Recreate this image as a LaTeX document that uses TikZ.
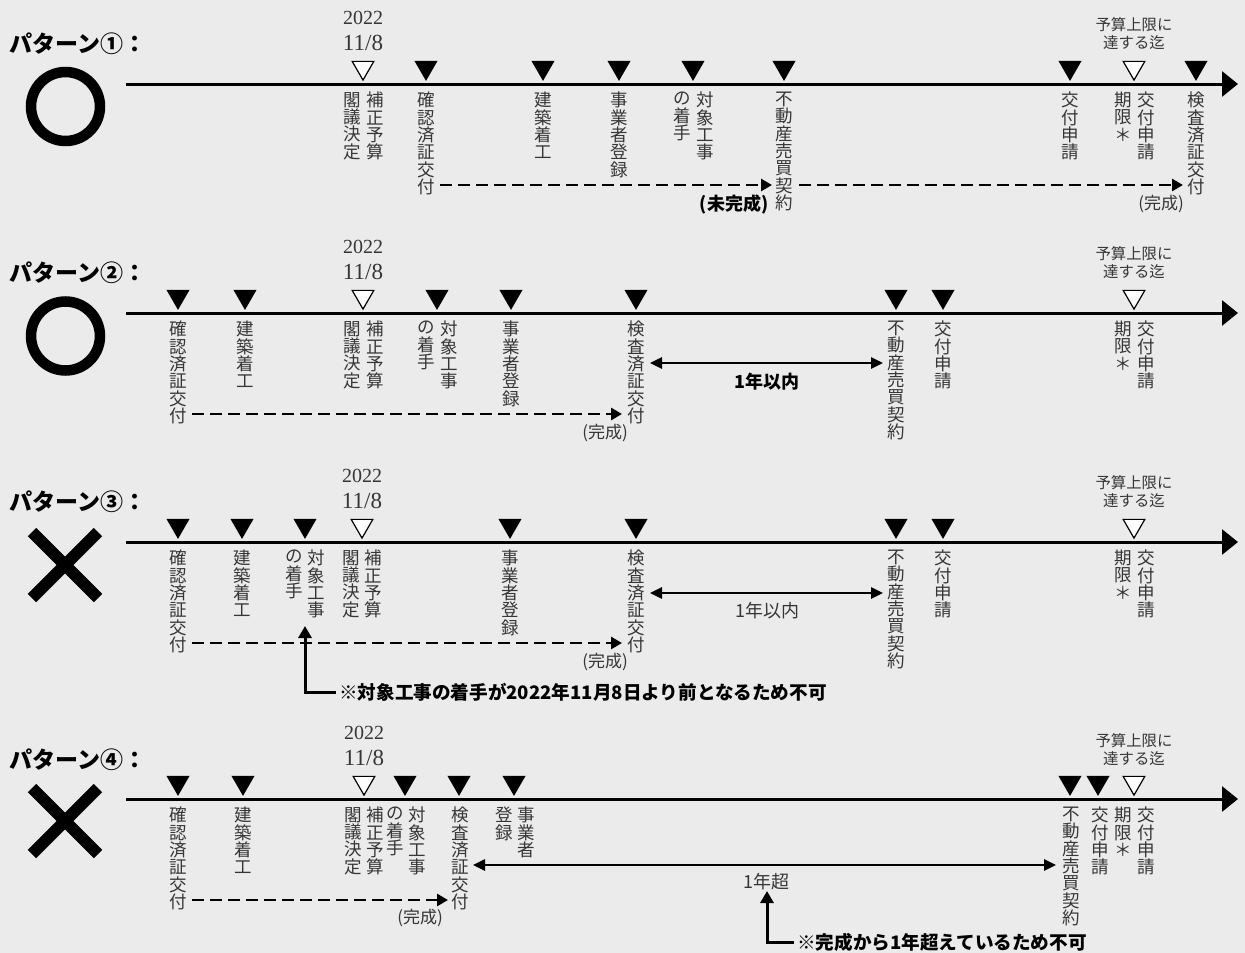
\documentclass[tikz,border=0pt]{standalone}
\usepackage{fontspec}
\setmainfont{Noto Sans CJK JP}
\newfontfamily\tms{Liberation Serif}
\usetikzlibrary{shapes.geometric,arrows.meta}
\definecolor{bg}{HTML}{EBEBEB}
\definecolor{lab}{HTML}{363636}
\tikzset{
 mk/.style={regular polygon, regular polygon sides=3, shape border rotate=180, minimum size=26.6pt, inner sep=0pt, outer sep=0pt},
 fmk/.style={mk, fill=black},
 omk/.style={mk, fill=white, draw=black, line width=1.2pt, minimum size=25pt},
 vlab/.style={anchor=north, align=center, inner sep=0pt, text=lab, font=\fontsize{17.5}{17.3}\selectfont},
 hlab/.style={inner sep=0pt, text=lab, font=\fontsize{15.4}{17}\selectfont},
 plab/.style={inner sep=0pt, text=lab, font=\fontsize{17}{19}\selectfont},
 blab/.style={inner sep=0pt, text=black, font=\fontsize{18}{20}\selectfont\bfseries},
 nlab/.style={inner sep=0pt, text=lab, font=\fontsize{18}{20}\selectfont},
 ttl/.style={anchor=west, inner sep=0pt, font=\fontsize{23}{25}\selectfont\bfseries},
 yr/.style={inner sep=0pt, text=lab, font=\tms\fontsize{20}{22}\selectfont},
 dt/.style={inner sep=0pt, text=lab, font=\tms\fontsize{23}{25}\selectfont},
 tline/.style={line width=3pt, -{Triangle[length=16pt,width=25pt]}},
 dline/.style={line width=2.8pt, dash pattern=on 12pt off 6pt, -{Triangle[length=11pt,width=12pt]}},
 darr/.style={line width=2.6pt, {Triangle[length=12pt,width=11pt]}-{Triangle[length=12pt,width=11pt]}},
 uarr/.style={line width=3pt, -{Triangle[length=12pt,width=13pt]}},
 note/.style={anchor=west, inner sep=0pt, text=black, font=\fontsize{18.6}{20}\selectfont\bfseries},
 okmark/.style={circle, draw=black, line width=10.5pt, minimum size=69pt, inner sep=0pt},
 ngline/.style={line width=12pt},
}
\begin{document}
\begin{tikzpicture}[x=1pt,y=-1pt]
\fill[bg] (0,0) rectangle (1245,953);
\useasboundingbox (0,0) rectangle (1245,953);

% ---------------- Pattern 1 ----------------
\begin{scope}[shift={(0,84)}]
\node[ttl] (t1) at (9,-40) {パターン①：};
\node[okmark] (s1) at (65.5,22.5) {};
\coordinate (l1s) at (126,0); \coordinate (l1e) at (1238,0);
\draw[tline] (l1s) -- (l1e);
\node[omk] (m1a) at (363,-16.4) {};
\node[fmk] (m1b) at (426,-16.4) {};
\node[fmk] (m1c) at (543,-16.4) {};
\node[fmk] (m1d) at (619,-16.4) {};
\node[fmk] (m1e) at (693,-16.4) {};
\node[fmk] (m1f) at (784,-16.4) {};
\node[fmk] (m1g) at (1070,-16.4) {};
\node[omk] (m1h) at (1134,-16.4) {};
\node[fmk] (m1i) at (1196,-16.4) {};
\node[yr] (y1) at (363,-66) {2022};
\node[dt] (d1) at (363,-41) {11/8};
\node[hlab] (b1a) at (1134,-59) {予算上限に};
\node[hlab] (b1b) at (1134,-41) {達する迄};
\node[vlab] (v1a) at (375,8) {補\\正\\予\\算};
\node[vlab] (v1a2) at (352,8) {閣\\議\\決\\定};
\node[vlab] (v1b) at (426,8) {確\\認\\済\\証\\交\\付};
\node[vlab] (v1c) at (543,8) {建\\築\\着\\工};
\node[vlab] (v1d) at (619,8) {事\\業\\者\\登\\録};
\node[vlab] (v1e) at (705,8) {対\\象\\工\\事};
\node[vlab] (v1e2) at (682,8) {の\\着\\手};
\node[vlab] (v1f) at (784,8) {不\\動\\産\\売\\買\\契\\約};
\node[vlab] (v1g) at (1070,8) {交\\付\\申\\請};
\node[vlab] (v1h) at (1146,8) {交\\付\\申\\請};
\node[vlab] (v1h2) at (1123,8) {期\\限\\＊};
\node[vlab] (v1i) at (1196,8) {検\\査\\済\\証\\交\\付};
\coordinate (c1a) at (440,101); \coordinate (c1b) at (772,101);
\coordinate (c1c) at (799,101); \coordinate (c1d) at (1183,101);
\draw[dline] (c1a) -- (c1b);
\draw[dline] (c1c) -- (c1d);
\node[blab] (w1a) at (734,120) {(未完成)};
\node[plab] (w1b) at (1161,120) {(完成)};
\end{scope}

% ---------------- Pattern 2 ----------------
\begin{scope}[shift={(0,313)}]
\node[ttl] (t2) at (9,-40) {パターン②：};
\node[okmark] (s2) at (65.5,23) {};
\coordinate (l2s) at (126,0); \coordinate (l2e) at (1238,0);
\draw[tline] (l2s) -- (l2e);
\node[fmk] (m2a) at (178,-16.4) {};
\node[fmk] (m2b) at (245,-16.4) {};
\node[omk] (m2c) at (363,-16.4) {};
\node[fmk] (m2d) at (437,-16.4) {};
\node[fmk] (m2e) at (511,-16.4) {};
\node[fmk] (m2f) at (636,-16.4) {};
\node[fmk] (m2g) at (896,-16.4) {};
\node[fmk] (m2h) at (943,-16.4) {};
\node[omk] (m2i) at (1134,-16.4) {};
\node[yr] (y2) at (363,-66) {2022};
\node[dt] (d2) at (363,-41) {11/8};
\node[hlab] (b2a) at (1134,-59) {予算上限に};
\node[hlab] (b2b) at (1134,-41) {達する迄};
\node[vlab] (v2a) at (178,8) {確\\認\\済\\証\\交\\付};
\node[vlab] (v2b) at (245,8) {建\\築\\着\\工};
\node[vlab] (v2c) at (375,8) {補\\正\\予\\算};
\node[vlab] (v2c2) at (352,8) {閣\\議\\決\\定};
\node[vlab] (v2d) at (449,8) {対\\象\\工\\事};
\node[vlab] (v2d2) at (426,8) {の\\着\\手};
\node[vlab] (v2e) at (511,8) {事\\業\\者\\登\\録};
\node[vlab] (v2f) at (636,8) {検\\査\\済\\証\\交\\付};
\node[vlab] (v2g) at (896,8) {不\\動\\産\\売\\買\\契\\約};
\node[vlab] (v2h) at (943,8) {交\\付\\申\\請};
\node[vlab] (v2i) at (1146,8) {交\\付\\申\\請};
\node[vlab] (v2i2) at (1123,8) {期\\限\\＊};
\coordinate (c2a) at (192,101); \coordinate (c2b) at (622,101);
\draw[dline] (c2a) -- (c2b);
\node[plab] (w2a) at (605,120) {(完成)};
\coordinate (e2a) at (650,50); \coordinate (e2b) at (883,50);
\draw[darr] (e2a) -- (e2b);
\node[blab] (k2) at (767,69) {1年以内};
\end{scope}

% ---------------- Pattern 3 ----------------
\begin{scope}[shift={(0,542)}]
\node[ttl] (t3) at (9,-40) {パターン③：};
\draw[ngline] (32,-10) -- (98,56);
\draw[ngline] (32,56) -- (98,-10);
\coordinate (l3s) at (126,0); \coordinate (l3e) at (1238,0);
\draw[tline] (l3s) -- (l3e);
\node[fmk] (m3a) at (178,-16.4) {};
\node[fmk] (m3b) at (242,-16.4) {};
\node[fmk] (m3c) at (305,-16.4) {};
\node[omk] (m3d) at (362,-16.4) {};
\node[fmk] (m3e) at (510,-16.4) {};
\node[fmk] (m3f) at (636,-16.4) {};
\node[fmk] (m3g) at (896,-16.4) {};
\node[fmk] (m3h) at (943,-16.4) {};
\node[omk] (m3i) at (1134,-16.4) {};
\node[yr] (y3) at (362,-66) {2022};
\node[dt] (d3) at (362,-41) {11/8};
\node[hlab] (b3a) at (1134,-59) {予算上限に};
\node[hlab] (b3b) at (1134,-41) {達する迄};
\node[vlab] (v3a) at (178,8) {確\\認\\済\\証\\交\\付};
\node[vlab] (v3b) at (242,8) {建\\築\\着\\工};
\node[vlab] (v3c) at (316,8) {対\\象\\工\\事};
\node[vlab] (v3c2) at (294,8) {の\\着\\手};
\node[vlab] (v3d) at (373,8) {補\\正\\予\\算};
\node[vlab] (v3d2) at (351,8) {閣\\議\\決\\定};
\node[vlab] (v3e) at (510,8) {事\\業\\者\\登\\録};
\node[vlab] (v3f) at (636,8) {検\\査\\済\\証\\交\\付};
\node[vlab] (v3g) at (896,8) {不\\動\\産\\売\\買\\契\\約};
\node[vlab] (v3h) at (943,8) {交\\付\\申\\請};
\node[vlab] (v3i) at (1146,8) {交\\付\\申\\請};
\node[vlab] (v3i2) at (1123,8) {期\\限\\＊};
\coordinate (c3a) at (192,101); \coordinate (c3b) at (622,101);
\draw[dline] (c3a) -- (c3b);
\node[plab] (w3a) at (605,120) {(完成)};
\coordinate (e3a) at (650,51); \coordinate (e3b) at (883,51);
\draw[darr] (e3a) -- (e3b);
\node[nlab] (k3) at (767,69) {1年以内};
\node[note] (n3) at (339,150) {※対象工事の着手が2022年11月8日より前となるため不可};
\coordinate (u3) at (305,84);
\draw[uarr] ([xshift=-3pt]n3.west) -| (u3);
\end{scope}

% ---------------- Pattern 4 ----------------
\begin{scope}[shift={(0,799)}]
\node[ttl] (t4) at (9,-39) {パターン④：};
\draw[ngline] (32,-11) -- (98,55);
\draw[ngline] (32,55) -- (98,-11);
\coordinate (l4s) at (126,0); \coordinate (l4e) at (1238,0);
\draw[tline] (l4s) -- (l4e);
\node[fmk] (m4a) at (178,-16.4) {};
\node[fmk] (m4b) at (243,-16.4) {};
\node[omk] (m4c) at (364,-16.4) {};
\node[fmk] (m4d) at (405,-16.4) {};
\node[fmk] (m4e) at (459,-16.4) {};
\node[fmk] (m4f) at (514,-16.4) {};
\node[fmk] (m4g) at (1070,-16.4) {};
\node[fmk] (m4h) at (1098,-16.4) {};
\node[omk] (m4i) at (1134,-16.4) {};
\node[yr] (y4) at (364,-66) {2022};
\node[dt] (d4) at (364,-41) {11/8};
\node[hlab] (b4a) at (1134,-58) {予算上限に};
\node[hlab] (b4b) at (1134,-40) {達する迄};
\node[vlab] (v4a) at (178,8) {確\\認\\済\\証\\交\\付};
\node[vlab] (v4b) at (243,8) {建\\築\\着\\工};
\node[vlab] (v4c) at (375,8) {補\\正\\予\\算};
\node[vlab] (v4c2) at (353,8) {閣\\議\\決\\定};
\node[vlab] (v4d) at (417,8) {対\\象\\工\\事};
\node[vlab] (v4d2) at (395,8) {の\\着\\手};
\node[vlab] (v4e) at (460,8) {検\\査\\済\\証\\交\\付};
\node[vlab] (v4f) at (526,8) {事\\業\\者};
\node[vlab] (v4f2) at (504,8) {登\\録};
\node[vlab] (v4g) at (1071,8) {不\\動\\産\\売\\買\\契\\約};
\node[vlab] (v4h) at (1100,8) {交\\付\\申\\請};
\node[vlab] (v4i) at (1146,8) {交\\付\\申\\請};
\node[vlab] (v4i2) at (1123,8) {期\\限\\＊};
\coordinate (c4a) at (192,101); \coordinate (c4b) at (448,101);
\draw[dline] (c4a) -- (c4b);
\node[plab] (w4a) at (420,119) {(完成)};
\coordinate (e4a) at (473,66); \coordinate (e4b) at (1056,66);
\draw[darr] (e4a) -- (e4b);
\node[nlab] (k4) at (766,83) {1年超};
\node[note] (n4) at (797,143) {※完成から1年超えているため不可};
\coordinate (u4) at (767,92);
\draw[uarr] ([xshift=-3pt]n4.west) -| (u4);
\end{scope}
\end{tikzpicture}
\end{document}
